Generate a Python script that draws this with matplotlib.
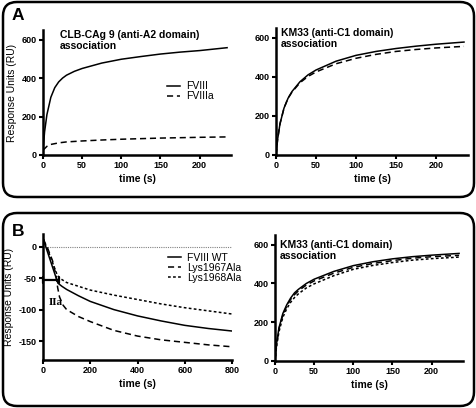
import numpy as np
import matplotlib
matplotlib.use("Agg")
import matplotlib.pyplot as plt
from matplotlib.patches import FancyBboxPatch

plt.rcParams["font.family"] = ["Liberation Sans", "DejaVu Sans"]
plt.rcParams["axes.unicode_minus"] = False

# ---------- data ----------
# panel A, left: CLB-CAg 9
a2_t = [0, 2, 5, 10, 15, 20, 25, 30, 40, 50, 75, 100, 125, 150, 175, 200, 235]
a2_fviii = [20, 120, 210, 300, 350, 380, 400, 415, 435, 450, 478, 498, 512, 525, 535, 543, 558]
a2_fviiia_t = [0, 5, 10, 20, 30, 50, 75, 100, 150, 200, 235]
a2_fviiia = [25, 45, 55, 63, 68, 73, 78, 82, 88, 92, 94]

# panel A, right: KM33
c1_t = [0, 2, 5, 10, 15, 20, 30, 40, 50, 75, 100, 125, 150, 175, 200, 235]
c1_fviii = [0, 80, 160, 240, 290, 325, 375, 410, 435, 480, 510, 530, 545, 557, 567, 578]
c1_fviiia = [0, 80, 160, 240, 290, 322, 370, 402, 425, 467, 495, 515, 530, 540, 548, 556]

# panel B, left: dissociation
wt_t = [0, 63, 80, 100, 150, 200, 300, 400, 500, 600, 700, 800]
wt_ru = [13, -58, -63, -68, -78, -87, -100, -110, -118, -125, -130, -134]
k67_t = [0, 20, 40, 55, 62, 70, 85, 100, 150, 200, 300, 400, 500, 600, 700, 800]
k67_ru = [13, -3, -22, -45, -65, -80, -93, -100, -111, -119, -133, -142, -148, -152, -156, -159]
k68_t = [0, 20, 40, 60, 70, 100, 150, 200, 300, 400, 500, 600, 700, 800]
k68_ru = [13, -5, -25, -45, -50, -57, -63, -69, -77, -84, -91, -97, -102, -107]

# panel B, right: KM33
b_t = [0, 2, 5, 10, 15, 20, 25, 30, 40, 50, 75, 100, 125, 150, 175, 200, 235]
b_wt = [0, 90, 170, 245, 290, 325, 352, 370, 400, 422, 462, 492, 512, 527, 538, 546, 555]
b_k67 = [0, 85, 165, 238, 283, 318, 343, 362, 392, 413, 453, 483, 503, 518, 530, 538, 545]
b_k68 = [0, 75, 150, 225, 270, 303, 328, 347, 377, 398, 440, 473, 493, 508, 520, 528, 536]

DASH = (0, (4, 2.5))
DOT = (0, (1.8, 1.5))

W, H = 477, 408
fig = plt.figure(figsize=(W / 100, H / 100), dpi=100)

# background overlay in pixel units for the rounded frames
bg = fig.add_axes([0, 0, 1, 1])
bg.set_xlim(0, W)
bg.set_ylim(H, 0)
bg.axis("off")
for y0, y1 in [(2, 197), (213, 406)]:
    bg.add_patch(FancyBboxPatch((3 + 14, y0 + 14), W - 6 - 28, y1 - y0 - 28,
                                boxstyle="round,pad=14", fc="white", ec="black", lw=1.8))
bg.text(12, 16, "A", fontsize=12.5, fontweight="bold", va="center")
bg.text(12, 232, "B", fontsize=12.5, fontweight="bold", va="center")


def px_axes(x0, x1, ytop, ybot):
    return fig.add_axes([x0 / W, 1 - ybot / H, (x1 - x0) / W, (ybot - ytop) / H])


def style(ax, xlim, ylim, xticks, yticks, ylabel=True):
    ax.set_xlim(*xlim)
    ax.set_ylim(*ylim)
    ax.set_xticks(xticks)
    ax.set_yticks(yticks)
    for s in ["top", "right"]:
        ax.spines[s].set_visible(False)
    for s in ["left", "bottom"]:
        ax.spines[s].set_linewidth(1.8)
    ax.tick_params(direction="out", length=3, width=1.5, pad=1.5, labelsize=6.5)
    for lab in ax.get_xticklabels() + ax.get_yticklabels():
        lab.set_fontweight("bold")
    ax.set_xlabel("time (s)", fontsize=7.5, fontweight="bold", labelpad=3)
    if ylabel:
        ax.set_ylabel("Response Units (RU)", fontsize=7.5, labelpad=3)
    ax.patch.set_alpha(0)


def title(ax, txt, x=0.025, y=1.0):
    ax.text(x, y, txt, transform=ax.transAxes,
            fontsize=7.5, fontweight="bold", va="top", ha="left", linespacing=1.1)


def legend(ax, anchor):
    ax.legend(loc="upper left", bbox_to_anchor=anchor, frameon=False, fontsize=7.5,
              handlelength=1.25, handletextpad=0.55, labelspacing=0.0, borderpad=0,
              borderaxespad=0)


# ---- A left
ax1 = px_axes(43, 231, 30, 155)
ax1.plot(a2_t, a2_fviii, color="black", lw=1.1, label="FVIII")
ax1.plot(a2_fviiia_t, a2_fviiia, color="black", lw=1.1, ls=DASH, label="FVIIIa")
style(ax1, (0, 240), (0, 650), [0, 50, 100, 150, 200], [0, 200, 400, 600])
title(ax1, "CLB-CAg 9 (anti-A2 domain)\nassociation", x=0.09)
legend(ax1, (0.66, 0.59))

# ---- A right
ax2 = px_axes(276, 468, 28, 155)
ax2.plot(c1_t, c1_fviii, color="black", lw=1.1)
ax2.plot(c1_t, c1_fviiia, color="black", lw=1.1, ls=DASH)
style(ax2, (0, 240), (0, 650), [0, 50, 100, 150, 200], [0, 200, 400, 600], ylabel=False)
title(ax2, "KM33 (anti-C1 domain)\nassociation")

# ---- B left
ax3 = px_axes(43, 232, 234, 360)
ax3.axhline(0, color="gray", lw=0.8, ls=(0, (1, 1)))
ax3.plot(wt_t, wt_ru, color="black", lw=1.1, label="FVIII WT")
ax3.plot(k67_t, k67_ru, color="black", lw=1.1, ls=DASH, label="Lys1967Ala")
ax3.plot(k68_t, k68_ru, color="black", lw=1.1, ls=DOT, label="Lys1968Ala")
style(ax3, (0, 800), (-180, 20), [0, 200, 400, 600, 800], [0, -50, -100, -150])
ax3.annotate("", xy=(66, -53), xytext=(0, -53),
             arrowprops=dict(arrowstyle="|-|,widthA=0.25,widthB=0.25", lw=1.6, color="black",
                             shrinkA=0, shrinkB=0))
ax3.text(24, -88, "IIa", family=["Liberation Serif", "DejaVu Serif"], fontsize=8,
         fontweight="bold", va="center", ha="left")
legend(ax3, (0.661, 0.85))

# ---- B right
ax4 = px_axes(275, 463, 235, 361)
ax4.plot(b_t, b_wt, color="black", lw=1.1)
ax4.plot(b_t, b_k67, color="black", lw=1.1, ls=DASH)
ax4.plot(b_t, b_k68, color="black", lw=1.1, ls=DOT)
style(ax4, (0, 240), (0, 650), [0, 50, 100, 150, 200], [0, 200, 400, 600], ylabel=False)
title(ax4, "KM33 (anti-C1 domain)\nassociation", y=0.96)

fig.savefig("out.png", dpi=100)
